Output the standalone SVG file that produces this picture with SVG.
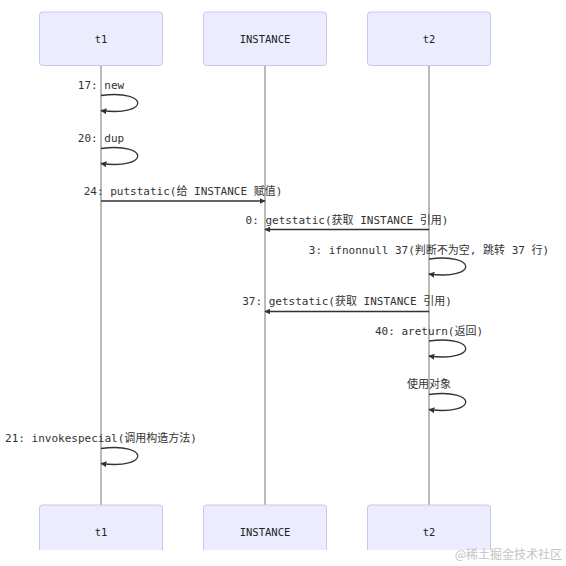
<svg xmlns="http://www.w3.org/2000/svg" width="566" height="566" viewBox="0 0 566 566">
<defs>
<style>
.actor{fill:#ECECFF;stroke:#C9C6F0;stroke-width:1}
.alabel{font-family:"DejaVu Sans Mono","Liberation Mono","Noto Sans CJK SC",monospace;font-size:10.5px;fill:#222;text-anchor:middle;dominant-baseline:central}
.life{stroke:#777;stroke-width:1;fill:none}
.msg{stroke:#333;stroke-width:1.3;fill:none;marker-end:url(#arr)}
.mlabel{font-family:"DejaVu Sans Mono","Liberation Mono","Noto Sans CJK SC",monospace;font-size:11px;fill:#333;text-anchor:middle;dominant-baseline:central}
.wm{font-family:"Noto Sans CJK SC",serif;font-size:12px;fill:#c4c4c4;text-anchor:end}
</style>
<marker id="arr" viewBox="0 0 10 10" refX="9" refY="5" markerWidth="6" markerHeight="6" orient="auto" markerUnits="userSpaceOnUse">
<path d="M0,0 L10,5 L0,10 z" fill="#333"/>
</marker>
</defs>
<rect width="566" height="566" fill="#fff"/>
<g id="lifelines">
<line class="life" x1="101" y1="65.5" x2="101" y2="505"/>
<line class="life" x1="265" y1="65.5" x2="265" y2="505"/>
<line class="life" x1="429" y1="65.5" x2="429" y2="505"/>
</g>
<g id="t1-top"><rect class="actor" x="39.5" y="12" width="123" height="53.5" rx="3"/><text class="alabel" x="101" y="39">t1</text></g>
<g id="instance-top"><rect class="actor" x="203.5" y="12" width="123" height="53.5" rx="3"/><text class="alabel" x="265" y="39">INSTANCE</text></g>
<g id="t2-top"><rect class="actor" x="367.5" y="12" width="123" height="53.5" rx="3"/><text class="alabel" x="429" y="39">t2</text></g>
<g id="t1-bottom"><rect class="actor" x="39.5" y="505" width="123" height="54" rx="3"/><text class="alabel" x="101" y="532">t1</text></g>
<g id="instance-bottom"><rect class="actor" x="203.5" y="505" width="123" height="54" rx="3"/><text class="alabel" x="265" y="532">INSTANCE</text></g>
<g id="t2-bottom"><rect class="actor" x="367.5" y="505" width="123" height="54" rx="3"/><text class="alabel" x="429" y="532">t2</text></g>
<g id="connectors">
<path class="msg" d="M101,95.5 C150,89 150,117 101,110.5"/>
<path class="msg" d="M101,148.5 C150,142 150,170 101,163.5"/>
<path class="msg" d="M101,201 L265,201"/>
<path class="msg" d="M429,229.5 L265,229.5"/>
<path class="msg" d="M429,259 C478,252.5 478,280.5 429,274"/>
<path class="msg" d="M429,311.5 L265,311.5"/>
<path class="msg" d="M429,341 C478,334.5 478,362.5 429,356"/>
<path class="msg" d="M429,394.5 C478,388 478,416 429,409.5"/>
<path class="msg" d="M101,448.5 C150,442 150,470 101,463.5"/>
</g>
<g id="labels">
<text class="mlabel" x="101" y="85.7">17: new</text>
<text class="mlabel" x="101" y="138.3">20: dup</text>
<text class="mlabel" x="183" y="191.7">24: putstatic(给 INSTANCE 赋值)</text>
<text class="mlabel" x="347" y="220">0: getstatic(获取 INSTANCE 引用)</text>
<text class="mlabel" x="429" y="250">3: ifnonnull 37(判断不为空, 跳转 37 行)</text>
<text class="mlabel" x="347" y="301.7">37: getstatic(获取 INSTANCE 引用)</text>
<text class="mlabel" x="429" y="331">40: areturn(返回)</text>
<text class="mlabel" x="429" y="384.3">使用对象</text>
<text class="mlabel" x="101" y="438.3">21: invokespecial(调用构造方法)</text>
</g>
<rect x="0" y="550" width="566" height="16" fill="#fff"/>
<text class="wm" x="562" y="559">@稀土掘金技术社区</text>
</svg>
